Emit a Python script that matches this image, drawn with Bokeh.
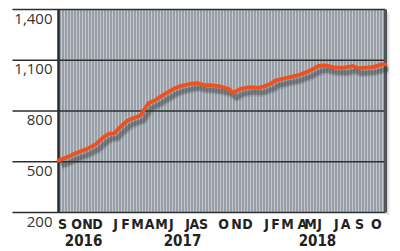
import numpy as np
from bokeh.plotting import figure
from bokeh.models import Range1d
from bokeh.core.properties import value
from bokeh.embed import file_html
from bokeh.resources import INLINE

# ---- data (x in months since 1 Sep 2016) ----
months = [0.00, 0.56, 1.35, 2.15, 2.94, 3.58, 3.98, 4.45, 4.77, 5.49, 6.12, 6.52,
          6.76, 7.16, 7.71, 8.51, 9.14, 9.70, 10.50, 11.05, 11.53, 12.24, 12.88,
          13.52, 13.91, 14.47, 15.27, 15.90, 16.30, 16.86, 17.25, 18.05, 19.00,
          19.88, 20.67, 21.23, 21.79, 22.58, 23.38, 23.85, 24.97, 25.76, 26.00]
values = [507, 523, 550, 572, 602, 645, 665, 669, 695, 744, 763, 773,
          803, 846, 866, 902, 931, 947, 961, 965, 955, 951, 945,
          931, 908, 931, 941, 937, 945, 961, 980, 995, 1010,
          1035, 1066, 1070, 1059, 1055, 1066, 1053, 1059, 1076, 1076]

y_ticks = [200, 500, 800, 1100, 1400]
y_tick_labels = ["200", "500", "800", "1,100", "1,400"]

month_labels = ["S", "O", "N", "D", "J", "F", "M", "A", "M", "J", "J", "A", "S",
                "O", "N", "D", "J", "F", "M", "A", "M", "J", "J", "A", "S", "O"]
month_label_pos = [0.32, 1.43, 2.31, 3.10, 4.53, 5.33, 6.28, 7.24, 8.19, 8.98,
                   10.26, 10.81, 11.53, 13.12, 14.15, 15.03, 16.54, 17.25, 18.21,
                   19.40, 20.04, 20.75, 22.10, 22.82, 23.93, 25.28]
year_labels = ["2016", "2017", "2018"]
year_label_pos = [1.99, 9.86, 20.59]

# ---- layout ----
X_START, X_END = 0.0, 26.0
GRID_LEFT = -3.66
PX = 26.0 / 327.0          # months per pixel
UY = 1200.0 / 203.0        # value units per pixel
LABEL_FONT = "DejaVu Sans Condensed"

p = figure(width=400, height=251, output_backend="svg", toolbar_location=None,
           x_axis_location=None, y_axis_location=None,
           x_range=Range1d(-58 * PX, 342 * PX),
           y_range=Range1d(200 - 39 * UY, 200 + 212 * UY),
           min_border=0, min_border_left=0, min_border_right=0,
           min_border_top=0, min_border_bottom=0)
p.outline_line_color = None
p.xgrid.visible = False
p.ygrid.visible = False
p.background_fill_color = "white"
p.border_fill_color = "white"

# right-edge shadow
for i, a in enumerate([0.35, 0.22, 0.12, 0.05]):
    p.quad(left=X_END + (1 + i) * PX, right=X_END + (2 + i) * PX,
           bottom=200 - 2 * UY, top=1400 - 3 * UY,
           fill_color="#606060", fill_alpha=a, line_color=None)

# striped panel
p.quad(left=X_START, right=X_END, bottom=200, top=1400,
       fill_color="#c2c8ce", line_color=None)
stripes = np.arange(X_START + 1.5 * PX, X_END, 3 * PX)
p.segment(x0=stripes, x1=stripes, y0=[200] * len(stripes), y1=[1400] * len(stripes),
          line_color="#7c848d", line_width=1.2)

# horizontal grid lines
for t in y_ticks:
    p.segment(x0=[GRID_LEFT], x1=[X_END], y0=[t], y1=[t],
              line_color="#2e2e2e", line_width=1.6)

# borders
p.segment(x0=[X_START], x1=[X_START], y0=[200], y1=[1400],
          line_color="#2a2a2a", line_width=2.5)
p.segment(x0=[X_END], x1=[X_END], y0=[200], y1=[1400],
          line_color="#505458", line_width=3)

# line shadow
sx = [m + 3 * PX for m in months]
sy = [v - 5 * UY for v in values]
p.line(sx, sy, line_color="#3a3a3a", line_alpha=0.18, line_width=8, line_join="round")
p.line(sx, sy, line_color="#3a3a3a", line_alpha=0.35, line_width=4.5, line_join="round")

# main line
p.line(months, values, line_color="#f0501e", line_width=3.8, line_join="round",
       line_cap="round")

# y tick labels
p.text(x=[X_START] * len(y_ticks), y=y_ticks, text=y_tick_labels,
       x_offset=-6, y_offset=4, text_align="right", text_baseline="top",
       text_font=value("Open Sans"), text_font_size="15px", text_color="#333333")

# month labels
p.text(x=month_label_pos, y=[200] * len(month_labels), text=month_labels,
       y_offset=3, text_align="center", text_baseline="top",
       text_font=value(LABEL_FONT), text_font_style="bold",
       text_font_size="14px", text_color="#222222")

# year labels
p.text(x=year_label_pos, y=[200] * len(year_labels), text=year_labels,
       y_offset=21, text_align="center", text_baseline="top",
       text_font=value(LABEL_FONT), text_font_style="bold",
       text_font_size="15px", text_color="#222222")

open("out.html", "w").write(file_html(p, INLINE))
